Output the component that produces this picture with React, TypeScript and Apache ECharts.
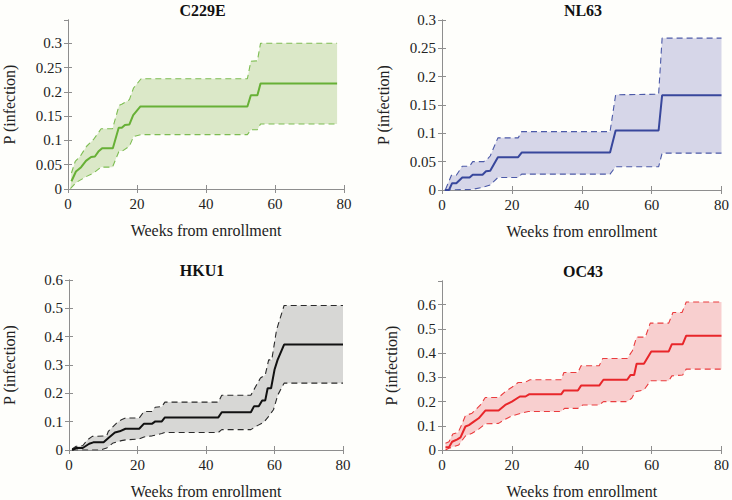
import React, { useEffect, useRef } from "react";
import * as echarts from "echarts";

type P = [number, number];

const titles = ["C229E", "NL63", "HKU1", "OC43"];
const xTicks = [0, 20, 40, 60, 80];
const yMax = [0.348, 0.3, 0.6, 0.698];
const yStep = [0.05, 0.05, 0.1, 0.1];

const c229eMean: P[] = [[1, 0.016], [2.3, 0.036], [3.8, 0.045], [5.2, 0.058], [6.7, 0.066], [7.8, 0.067], [8.8, 0.077], [9.9, 0.084], [13, 0.084], [14.7, 0.126], [15.6, 0.126], [16.5, 0.132], [17.8, 0.133], [18.9, 0.152], [21, 0.17], [52, 0.17], [53, 0.193], [54.9, 0.193], [55.8, 0.217], [78, 0.217]];
const c229eUpper: P[] = [[1, 0.033], [2.1, 0.057], [3.5, 0.067], [5.4, 0.088], [7.4, 0.102], [9.6, 0.124], [12.9, 0.124], [14.8, 0.172], [15.7, 0.175], [17.8, 0.184], [19, 0.208], [21.2, 0.227], [52, 0.227], [53, 0.263], [54.9, 0.264], [55.8, 0.3], [78, 0.3]];
const c229eLower: P[] = [[0.7, 0.001], [2.5, 0.014], [5.4, 0.026], [7.4, 0.033], [9.6, 0.045], [12.9, 0.045], [14.8, 0.078], [15.7, 0.078], [17.8, 0.088], [19, 0.108], [21.2, 0.112], [52, 0.112], [53, 0.122], [54.9, 0.122], [55.8, 0.134], [78, 0.134]];

const nl63Mean: P[] = [[0.8, 0], [2, 0], [2.9, 0.012], [4.1, 0.012], [5.8, 0.022], [7.9, 0.022], [8.8, 0.027], [11.6, 0.027], [12.6, 0.033], [13.8, 0.034], [16, 0.058], [21.8, 0.058], [22.8, 0.066], [48.1, 0.066], [49.7, 0.105], [62, 0.105], [63, 0.167], [80, 0.167]];
const nl63Upper: P[] = [[1, 0.001], [2.7, 0.026], [4.1, 0.026], [5.8, 0.042], [7.9, 0.042], [8.8, 0.05], [11.9, 0.05], [12.9, 0.054], [13.8, 0.06], [16, 0.092], [21.8, 0.092], [22.8, 0.103], [48.1, 0.103], [49.7, 0.168], [62, 0.169], [63, 0.268], [80, 0.268]];
const nl63Lower: P[] = [[0.8, 0], [8.6, 0.001], [11.9, 0.005], [13.8, 0.009], [16, 0.022], [21.8, 0.022], [22.8, 0.028], [48.1, 0.028], [49.7, 0.041], [62, 0.041], [63, 0.065], [80, 0.065]];

const hku1Mean: P[] = [[0.9, 0], [2.1, 0.007], [4, 0.007], [5.9, 0.022], [7.1, 0.027], [10.1, 0.027], [11.5, 0.042], [13.4, 0.062], [14.8, 0.066], [16.5, 0.075], [20.5, 0.075], [21.9, 0.093], [24.3, 0.093], [25.2, 0.101], [27.1, 0.101], [28, 0.115], [43.6, 0.115], [44.6, 0.133], [53.1, 0.133], [54, 0.154], [55.4, 0.154], [56.4, 0.175], [57.3, 0.175], [58, 0.218], [59, 0.218], [60, 0.283], [60.9, 0.318], [62.8, 0.372], [80, 0.372]];
const hku1Upper: P[] = [[0.9, 0.004], [2.1, 0.013], [4, 0.015], [5.4, 0.036], [6.8, 0.048], [11, 0.05], [11.5, 0.066], [13.9, 0.095], [15.3, 0.107], [16.5, 0.113], [20.5, 0.113], [21.9, 0.136], [24.3, 0.136], [25.2, 0.151], [27.1, 0.153], [28, 0.169], [43.6, 0.169], [44.6, 0.193], [53.1, 0.193], [54.5, 0.224], [55.9, 0.254], [57.3, 0.265], [58.3, 0.318], [59.2, 0.318], [60.6, 0.424], [62.8, 0.51], [80, 0.51]];
const hku1Lower: P[] = [[0.9, 0], [9.2, 0], [11, 0.007], [12.9, 0.025], [15.3, 0.033], [16.7, 0.036], [20.5, 0.039], [21.9, 0.046], [24.3, 0.05], [27.1, 0.058], [28, 0.062], [43.6, 0.062], [44.6, 0.072], [53.1, 0.072], [55, 0.086], [56.8, 0.097], [58.3, 0.119], [59.7, 0.142], [61, 0.195], [62.8, 0.236], [80, 0.236]];

const oc43Mean: P[] = [[1, 0.011], [2, 0.011], [2.9, 0.034], [4.4, 0.044], [5.3, 0.052], [6.7, 0.097], [7.7, 0.103], [9.1, 0.117], [10.5, 0.131], [12.4, 0.163], [16.2, 0.163], [18.1, 0.186], [20, 0.2], [22.3, 0.221], [23.9, 0.221], [24.9, 0.23], [34.1, 0.23], [34.9, 0.246], [38.9, 0.246], [39.8, 0.266], [45, 0.266], [46.2, 0.29], [53, 0.29], [54, 0.31], [55, 0.31], [55.7, 0.356], [57.8, 0.356], [59.9, 0.407], [64.9, 0.407], [65.8, 0.437], [68.9, 0.437], [69.9, 0.472], [80, 0.472]];
const oc43Upper: P[] = [[1, 0.028], [2, 0.034], [3.1, 0.066], [4.6, 0.072], [5.8, 0.11], [6.7, 0.142], [8.6, 0.152], [11, 0.186], [12.4, 0.217], [16.2, 0.217], [18.1, 0.241], [20, 0.259], [21.8, 0.279], [23.7, 0.279], [25.2, 0.29], [34.1, 0.29], [34.9, 0.32], [38.9, 0.32], [39.8, 0.348], [45, 0.348], [46, 0.378], [53, 0.378], [54.5, 0.41], [55.7, 0.466], [58.2, 0.466], [59.6, 0.524], [64.9, 0.524], [66.1, 0.568], [68.7, 0.568], [69.9, 0.611], [80, 0.611]];
const oc43Lower: P[] = [[1, 0], [2, 0.007], [3.4, 0.014], [4.8, 0.021], [6.7, 0.058], [8.6, 0.069], [10.5, 0.086], [12.4, 0.108], [16.2, 0.11], [18.1, 0.127], [20, 0.141], [22.7, 0.152], [24.7, 0.159], [34.1, 0.159], [35.1, 0.172], [38.9, 0.172], [40.3, 0.186], [45, 0.186], [46.2, 0.2], [53, 0.2], [54.3, 0.214], [55.4, 0.241], [57.8, 0.248], [59.7, 0.286], [64.9, 0.286], [65.8, 0.306], [68.9, 0.31], [69.9, 0.334], [80, 0.334]];

const means = [c229eMean, nl63Mean, hku1Mean, oc43Mean];
const uppers = [c229eUpper, nl63Upper, hku1Upper, oc43Upper];
const lowers = [c229eLower, nl63Lower, hku1Lower, oc43Lower];

const lineColors = ["#67b036", "#38479c", "#111111", "#e8262a"];
const dashColors = ["#7dbd52", "#4c5aa8", "#2a2a2a", "#ea3c3e"];
const bandColors = ["#dbe8c8", "#d6d6e8", "#d7d7d5", "#f8cfcf"];

const grids = [
  { left: 61, top: 20, width: 283, height: 169 },
  { left: 442, top: 20, width: 282, height: 170 },
  { left: 61, top: 280, width: 282, height: 170 },
  { left: 442, top: 281, width: 282, height: 169 },
];
const yNameGap = [51, 51, 52, 43];

const FONT = "'Liberation Serif', 'Times New Roman', serif";
const AXIS_COLOR = "#8e8e8e";

export default function App() {
  const ref = useRef<HTMLDivElement>(null);
  useEffect(() => {
    if (!ref.current) return;
    const chart = echarts.init(ref.current, undefined, { renderer: "svg" });
    const xAxes: any[] = [];
    const yAxes: any[] = [];
    const series: any[] = [];
    const graphics: any[] = [];
    grids.forEach((g, i) => {
      const axisLine = { show: true, lineStyle: { color: AXIS_COLOR, width: 1 } };
      const axisTick = { show: true, inside: true, length: 4, lineStyle: { color: AXIS_COLOR } };
      xAxes.push({
        type: "value", gridIndex: i, min: xTicks[0], max: xTicks[xTicks.length - 1], interval: 20,
        position: "bottom", axisLine, axisTick, splitLine: { show: false },
        axisLabel: { color: "#222", fontFamily: FONT, fontSize: 15, margin: 7 },
        name: "Weeks from enrollment", nameLocation: "middle", nameGap: 33,
        nameTextStyle: { color: "#222", fontFamily: FONT, fontSize: 16 },
      });
      xAxes.push({
        type: "value", gridIndex: i, min: xTicks[0], max: xTicks[xTicks.length - 1], interval: 20,
        position: "top", axisLine, axisTick, splitLine: { show: false }, axisLabel: { show: false },
      });
      yAxes.push({
        type: "value", gridIndex: i, min: 0, max: yMax[i], interval: yStep[i],
        position: "left", axisLine, axisTick, splitLine: { show: false },
        axisLabel: { color: "#222", fontFamily: FONT, fontSize: 15, margin: 6, showMaxLabel: yMax[i] === 0.3 || yMax[i] === 0.6 },
        name: "P (infection)", nameLocation: "middle", nameGap: yNameGap[i],
        nameTextStyle: { color: "#222", fontFamily: FONT, fontSize: 16 },
      });
      yAxes.push({
        type: "value", gridIndex: i, min: 0, max: yMax[i], interval: yStep[i],
        position: "right", axisLine, axisTick, splitLine: { show: false }, axisLabel: { show: false },
      });
      const up = uppers[i];
      const lo = lowers[i];
      series.push({
        type: "custom", xAxisIndex: 2 * i, yAxisIndex: 2 * i, data: [[0, 0]], silent: true, z: 1,
        renderItem: (_p: any, api: any) => {
          const pts = up.map((p) => api.coord(p)).concat(lo.slice().reverse().map((p) => api.coord(p)));
          return { type: "polygon", shape: { points: pts }, style: { fill: bandColors[i] } };
        },
      });
      series.push({
        type: "line", xAxisIndex: 2 * i, yAxisIndex: 2 * i, data: up, showSymbol: false, symbol: "none", z: 2,
        lineStyle: { color: dashColors[i], width: 1.1, type: [6, 4] },
      });
      series.push({
        type: "line", xAxisIndex: 2 * i, yAxisIndex: 2 * i, data: lo, showSymbol: false, symbol: "none", z: 2,
        lineStyle: { color: dashColors[i], width: 1.1, type: [6, 4] },
      });
      series.push({
        type: "line", xAxisIndex: 2 * i, yAxisIndex: 2 * i, data: means[i], showSymbol: false, symbol: "none", z: 3,
        lineStyle: { color: lineColors[i], width: 2 },
      });
      graphics.push({
        type: "text", x: g.left + g.width / 2, y: g.top - 10,
        style: { text: titles[i], font: "bold 16px 'Liberation Serif', serif", fill: "#111", align: "center", verticalAlign: "middle" },
      });
    });
    chart.setOption({
      animation: false,
      backgroundColor: "#fefefb",
      textStyle: { fontFamily: FONT },
      grid: grids,
      xAxis: xAxes,
      yAxis: yAxes,
      series,
      graphic: graphics,
    });
    return () => chart.dispose();
  }, []);
  return <div ref={ref} style={{ width: 732, height: 500, position: "absolute", left: 0, top: 0 }} />;
}
